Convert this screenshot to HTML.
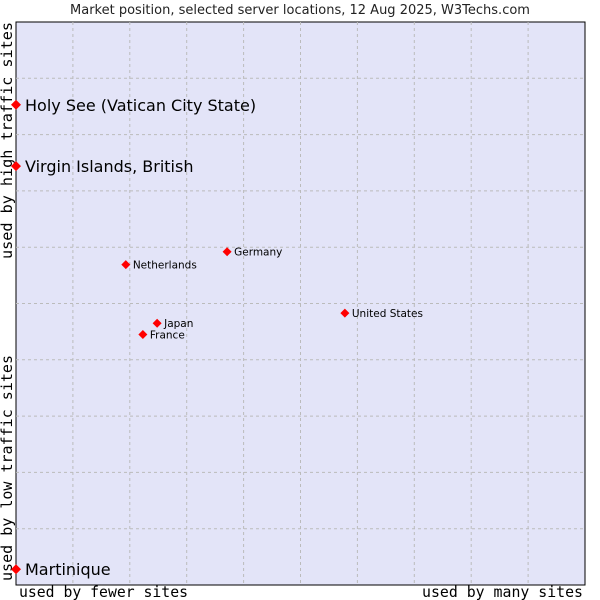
<!DOCTYPE html>
<html><head><meta charset="utf-8"><style>
html,body{margin:0;padding:0;background:#fff;width:600px;height:600px;overflow:hidden}
</style></head><body>
<svg width="600" height="600" xmlns="http://www.w3.org/2000/svg">
<text x="300" y="14" text-anchor="middle" font-family="DejaVu Sans, sans-serif" font-size="13" fill="#222">Market position, selected server locations, 12 Aug 2025, W3Techs.com</text>
<rect x="16" y="22" width="569" height="563" fill="#e3e4f8" stroke="#000" stroke-width="1"/>
<g id="grid"></g>
<text x="19" y="597" textLength="169" lengthAdjust="spacingAndGlyphs" font-family="DejaVu Sans Mono, monospace" font-size="15" fill="#000">used by fewer sites</text>
<text x="422" y="597" textLength="161" lengthAdjust="spacingAndGlyphs" font-family="DejaVu Sans Mono, monospace" font-size="15" fill="#000">used by many sites</text>
<text transform="translate(12,259) rotate(-90)" textLength="237" lengthAdjust="spacingAndGlyphs" font-family="DejaVu Sans Mono, monospace" font-size="15" fill="#000">used by high traffic sites</text>
<text transform="translate(12,581) rotate(-90)" textLength="226" lengthAdjust="spacingAndGlyphs" font-family="DejaVu Sans Mono, monospace" font-size="15" fill="#000">used by low traffic sites</text>
<g id="points"></g>
</svg>
<script>
const names=["Holy See (Vatican City State)","Virgin Islands, British","Germany","Netherlands","United States","Japan","France","Martinique"];
const xVals=[0,0,3.71,1.93,5.78,2.48,2.23,0];
const yVals=[8.53,7.44,5.92,5.69,4.83,4.65,4.45,0.28];
const big=[true,true,false,false,false,false,false,true];
const NS="http://www.w3.org/2000/svg";
const L=16,R=585,T=22,B=585;
function sx(v){return L+v/10*(R-L);}
function sy(v){return B-v/10*(B-T);}
const grid=document.getElementById('grid');
for(let i=1;i<10;i++){
  const v=document.createElementNS(NS,'line');
  v.setAttribute('x1',sx(i));v.setAttribute('x2',sx(i));v.setAttribute('y1',T);v.setAttribute('y2',B);
  v.setAttribute('stroke','#bbb');v.setAttribute('stroke-dasharray','3,3');
  
  
  grid.appendChild(v);
  const h=document.createElementNS(NS,'line');
  h.setAttribute('x1',L);h.setAttribute('x2',R);h.setAttribute('y1',sy(i));h.setAttribute('y2',sy(i));
  h.setAttribute('stroke','#bbb');h.setAttribute('stroke-dasharray','3,3');
  
  
  grid.appendChild(h);
}
const pts=document.getElementById('points');
names.forEach((n,i)=>{
  const x=sx(xVals[i]),y=sy(yVals[i]);
  const d=document.createElementNS(NS,'polygon');
  const r=big[i]?5:4.5;
  d.setAttribute('points',`${x},${y-r} ${x+r},${y} ${x},${y+r} ${x-r},${y}`);
  d.setAttribute('fill','#f00');
  
  
  pts.appendChild(d);
  const t=document.createElementNS(NS,'text');
  t.setAttribute('x',x+(big[i]?9:7));
  t.setAttribute('y',y+(big[i]?6:4));
  t.setAttribute('font-family','DejaVu Sans, sans-serif');
  t.setAttribute('font-size',big[i]?'16':'10.5');
  t.setAttribute('fill','#000');
  t.textContent=n;
  
  
  pts.appendChild(t);
});
</script>
</body></html>
